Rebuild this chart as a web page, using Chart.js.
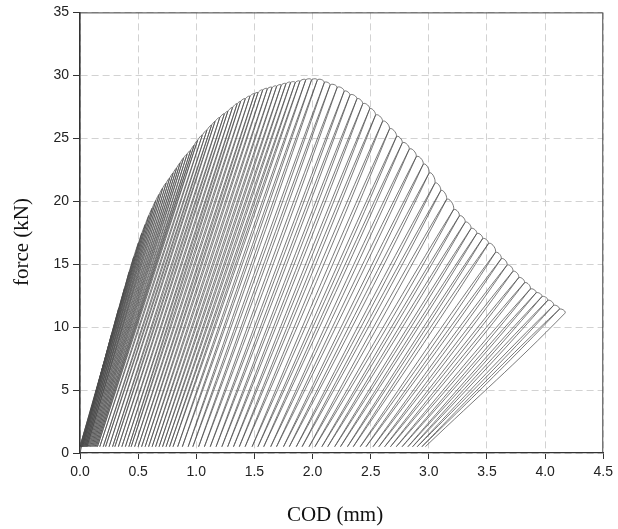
<!DOCTYPE html>
<html>
<head>
<meta charset="utf-8">
<script src="https://cdn.jsdelivr.net/npm/chart.js@4.4.0/dist/chart.umd.min.js"></script>
<style>
  html, body { margin: 0; padding: 0; background: #fff; }
  #wrap { width: 618px; height: 529px; }
</style>
</head>
<body>
<div id="wrap"><canvas id="codChart" width="618" height="529"></canvas></div>
<script>
// one entry per load cycle: peak of the cycle and where unloading ends
const peakCod = [
  0.12, 0.20, 0.27, 0.33, 0.38, 0.42, 0.46, 0.50, 0.53, 0.56,
  0.59, 0.62, 0.65, 0.68, 0.71, 0.74, 0.77, 0.80, 0.83, 0.86,
  0.89, 0.92, 0.95, 0.98, 1.01, 1.05, 1.09, 1.13, 1.16, 1.20,
  1.24, 1.27, 1.31, 1.35, 1.38, 1.42, 1.46, 1.50, 1.53, 1.57,
  1.61, 1.65, 1.69, 1.73, 1.77, 1.81, 1.85, 1.89, 1.94, 1.99,
  2.04, 2.10, 2.15, 2.21, 2.27, 2.32, 2.38, 2.43, 2.49, 2.54,
  2.60, 2.66, 2.72, 2.77, 2.83, 2.89, 2.95, 3.00, 3.05, 3.10,
  3.15, 3.21, 3.26, 3.31, 3.36, 3.41, 3.46, 3.51, 3.57, 3.62,
  3.67, 3.72, 3.77, 3.82, 3.87, 3.92, 3.97, 4.02, 4.07, 4.12,
  4.17
];
const peakForce = [
  4.2, 7.0, 9.4, 11.4, 13.0, 14.3, 15.5, 16.6, 17.4, 18.1,
  18.8, 19.4, 20.0, 20.5, 21.0, 21.4, 21.8, 22.2, 22.6, 23.0,
  23.4, 23.7, 24.0, 24.4, 24.8, 25.2, 25.6, 26.0, 26.3, 26.6,
  26.9, 27.1, 27.4, 27.7, 27.9, 28.1, 28.3, 28.5, 28.6, 28.8,
  28.9, 29.0, 29.1, 29.2, 29.3, 29.4, 29.4, 29.5, 29.6, 29.6,
  29.6, 29.4, 29.2, 29.0, 28.7, 28.4, 28.1, 27.7, 27.3, 26.8,
  26.3, 25.7, 25.1, 24.6, 24.1, 23.5, 22.9, 22.2, 21.4, 20.8,
  20.1, 19.3, 18.8, 18.3, 17.8, 17.4, 17.0, 16.6, 15.9, 15.4,
  14.9, 14.4, 13.9, 13.5, 13.0, 12.7, 12.4, 12.1, 11.7, 11.4,
  11.1
];
const residualCod = [
  0.00, 0.00, 0.01, 0.01, 0.01, 0.02, 0.02, 0.02, 0.03, 0.03,
  0.04, 0.04, 0.05, 0.05, 0.06, 0.06, 0.07, 0.08, 0.09, 0.10,
  0.11, 0.12, 0.13, 0.14, 0.15, 0.17, 0.20, 0.22, 0.25, 0.28,
  0.30, 0.33, 0.36, 0.39, 0.42, 0.44, 0.47, 0.50, 0.53, 0.56,
  0.59, 0.62, 0.65, 0.68, 0.71, 0.74, 0.77, 0.80, 0.84, 0.88,
  0.93, 0.97, 1.02, 1.07, 1.12, 1.17, 1.22, 1.27, 1.32, 1.37,
  1.42, 1.48, 1.53, 1.58, 1.64, 1.69, 1.75, 1.80, 1.86, 1.91,
  1.97, 2.02, 2.08, 2.13, 2.19, 2.24, 2.30, 2.35, 2.41, 2.46,
  2.52, 2.57, 2.62, 2.67, 2.72, 2.77, 2.82, 2.86, 2.90, 2.94,
  2.97
];
const valleyForce = 0.5;

const xTicks = [0, 0.5, 1, 1.5, 2, 2.5, 3, 3.5, 4, 4.5];
const yTicks = [0, 5, 10, 15, 20, 25, 30, 35];
const xTitle = 'COD (mm)';
const yTitle = 'force (kN)';

// load path: reload up to the last peak, go on to the new peak, unload
const path = [{ x: 0, y: 0 }];
peakCod.forEach((c, i) => {
  if (i > 0) path.push({ x: peakCod[i - 1], y: peakForce[i - 1] });
  path.push({ x: c, y: peakForce[i] });
  path.push({ x: residualCod[i], y: valleyForce });
});

// box round the plot and the two axis titles
const frame = {
  id: 'frame',
  afterDraw(chart) {
    const { ctx, chartArea: a } = chart;
    ctx.save();
    ctx.strokeStyle = '#444';
    ctx.lineWidth = 1;
    ctx.beginPath();
    ctx.moveTo(a.left, a.top + 0.5);
    ctx.lineTo(a.right - 0.5, a.top + 0.5);
    ctx.lineTo(a.right - 0.5, a.bottom);
    ctx.stroke();

    ctx.fillStyle = '#111';
    ctx.font = '21px "Liberation Serif"';
    ctx.textAlign = 'center';
    ctx.textBaseline = 'middle';
    ctx.fillText(xTitle, 335, 515);
    ctx.translate(22, 242);
    ctx.rotate(-Math.PI / 2);
    ctx.fillText(yTitle, 0, 0);
    ctx.restore();
  }
};

const tickFont = { family: 'Liberation Sans', size: 14 };

new Chart(document.getElementById('codChart').getContext('2d'), {
  type: 'scatter',
  data: {
    datasets: [{
      data: path,
      showLine: true,
      borderColor: '#4d4d4d',
      borderWidth: 0.75,
      pointRadius: 0,
      tension: 0.4
    }]
  },
  options: {
    responsive: false,
    animation: false,
    events: [],
    layout: { padding: { top: 12, right: 9, left: 0, bottom: 0 } },
    plugins: { legend: { display: false }, tooltip: { enabled: false } },
    scales: {
      x: {
        type: 'linear',
        min: 0,
        max: 4.5,
        afterBuildTicks: s => { s.ticks = xTicks.map(v => ({ value: v })); },
        afterFit: s => { s.height = 76; },
        ticks: {
          color: '#222',
          font: tickFont,
          padding: 5,
          maxRotation: 0,
          callback: v => v.toFixed(1)
        },
        grid: { color: '#d2d2d2', tickColor: '#333', tickLength: 6, tickBorderDash: [] },
        border: { color: '#333', width: 1.2, dash: [7, 4] }
      },
      y: {
        type: 'linear',
        min: 0,
        max: 35,
        afterBuildTicks: s => { s.ticks = yTicks.map(v => ({ value: v })); },
        afterFit: s => { s.width = 80; },
        ticks: { color: '#222', font: tickFont, padding: 4 },
        grid: { color: '#d2d2d2', tickColor: '#333', tickLength: 7, tickBorderDash: [] },
        border: { color: '#333', width: 1.6, dash: [7, 4] }
      }
    }
  },
  plugins: [frame]
});
</script>
</body>
</html>
